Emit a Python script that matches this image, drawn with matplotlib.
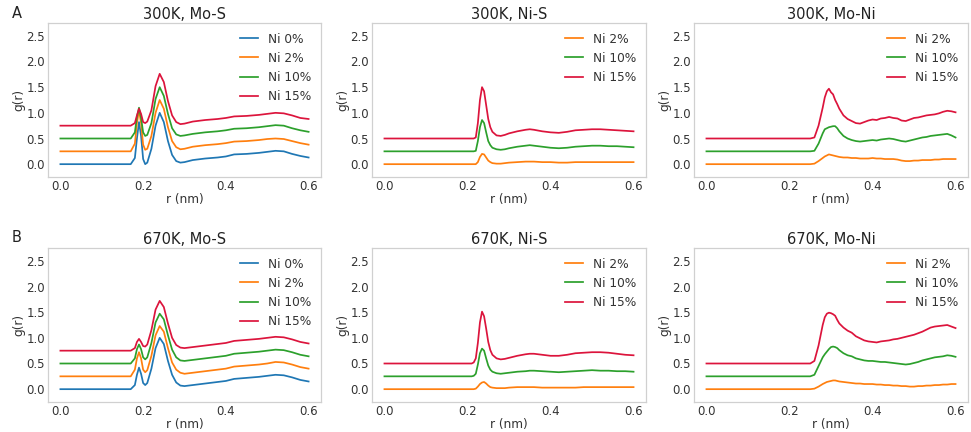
import matplotlib
matplotlib.use("Agg")
import matplotlib.pyplot as plt

# ---------------- data ----------------
r_mos = [0.0, 0.1, 0.17, 0.18, 0.185, 0.19, 0.195, 0.2, 0.205, 0.21, 0.22, 0.23, 0.24, 0.25, 0.26,
         0.27, 0.28, 0.29, 0.3, 0.32, 0.35, 0.38, 0.4, 0.42, 0.45, 0.48, 0.5, 0.52, 0.54, 0.56, 0.58, 0.6]

mos_300_ni0 = [0, 0, 0, 0.12, 0.5, 0.82, 0.55, 0.1, 0.0, 0.03, 0.3, 0.75, 1.0, 0.82, 0.45,
               0.18, 0.06, 0.03, 0.04, 0.08, 0.11, 0.13, 0.15, 0.19, 0.2, 0.22, 0.24, 0.26, 0.25, 0.2, 0.16, 0.13]
mos_300_ni2 = [0.25, 0.25, 0.25, 0.4, 0.8, 1.05, 0.8, 0.38, 0.28, 0.3, 0.55, 1.0, 1.25, 1.08, 0.72,
               0.45, 0.33, 0.29, 0.3, 0.34, 0.37, 0.39, 0.41, 0.44, 0.45, 0.47, 0.49, 0.5, 0.49, 0.45, 0.41, 0.38]
mos_300_ni10 = [0.5, 0.5, 0.5, 0.62, 0.92, 1.1, 0.9, 0.62, 0.55, 0.57, 0.8, 1.27, 1.5, 1.33, 0.98,
                0.7, 0.58, 0.55, 0.56, 0.59, 0.62, 0.64, 0.66, 0.69, 0.7, 0.72, 0.74, 0.76, 0.75, 0.7, 0.66, 0.63]
mos_300_ni15 = [0.75, 0.75, 0.75, 0.8, 0.95, 1.08, 0.98, 0.82, 0.8, 0.83, 1.05, 1.52, 1.76, 1.6, 1.23,
                0.95, 0.82, 0.78, 0.79, 0.83, 0.86, 0.88, 0.9, 0.93, 0.94, 0.96, 0.98, 1.0, 0.99, 0.95, 0.9, 0.88]

mos_670_ni0 = [0, 0, 0, 0.08, 0.28, 0.42, 0.3, 0.12, 0.08, 0.12, 0.4, 0.8, 1.0, 0.88, 0.55,
               0.28, 0.13, 0.07, 0.06, 0.08, 0.11, 0.14, 0.16, 0.2, 0.22, 0.24, 0.26, 0.28, 0.27, 0.23, 0.18, 0.15]
mos_670_ni2 = [0.25, 0.25, 0.25, 0.38, 0.6, 0.72, 0.6, 0.38, 0.33, 0.37, 0.65, 1.05, 1.23, 1.12, 0.8,
               0.52, 0.38, 0.32, 0.3, 0.32, 0.35, 0.38, 0.4, 0.44, 0.46, 0.48, 0.5, 0.53, 0.52, 0.48, 0.43, 0.4]
mos_670_ni10 = [0.5, 0.5, 0.5, 0.6, 0.78, 0.87, 0.78, 0.62, 0.58, 0.62, 0.9, 1.3, 1.47, 1.36, 1.05,
                0.77, 0.62, 0.56, 0.55, 0.57, 0.6, 0.63, 0.65, 0.69, 0.71, 0.73, 0.75, 0.77, 0.76, 0.72, 0.67, 0.64]
mos_670_ni15 = [0.75, 0.75, 0.75, 0.8, 0.92, 0.98, 0.92, 0.84, 0.83, 0.87, 1.15, 1.55, 1.72, 1.6, 1.28,
                1.0, 0.86, 0.81, 0.8, 0.82, 0.85, 0.88, 0.9, 0.94, 0.96, 0.98, 1.0, 1.02, 1.01, 0.97, 0.92, 0.89]

r_nis = [0.0, 0.1, 0.2, 0.21, 0.215, 0.22, 0.225, 0.23, 0.235, 0.24, 0.245, 0.25, 0.255, 0.26, 0.27,
         0.28, 0.29, 0.3, 0.32, 0.34, 0.35, 0.36, 0.38, 0.4, 0.42, 0.44, 0.46, 0.48, 0.5, 0.52, 0.54, 0.56, 0.58, 0.6]

nis_300_ni2 = [0, 0, 0, 0, 0, 0, 0.04, 0.14, 0.2, 0.19, 0.13, 0.07, 0.04, 0.02, 0.01,
               0.01, 0.02, 0.03, 0.04, 0.05, 0.05, 0.05, 0.04, 0.04, 0.03, 0.03, 0.04, 0.04, 0.04, 0.04, 0.04, 0.04, 0.04, 0.04]
nis_300_ni10 = [0.25, 0.25, 0.25, 0.25, 0.25, 0.26, 0.45, 0.72, 0.86, 0.8, 0.62, 0.45, 0.37, 0.32, 0.29,
                0.28, 0.29, 0.31, 0.34, 0.36, 0.37, 0.36, 0.34, 0.32, 0.31, 0.32, 0.34, 0.35, 0.36, 0.36, 0.35, 0.35, 0.34, 0.33]
nis_300_ni15 = [0.5, 0.5, 0.5, 0.5, 0.5, 0.52, 0.8, 1.25, 1.5, 1.42, 1.15, 0.88, 0.72, 0.63, 0.56,
                0.55, 0.57, 0.6, 0.64, 0.67, 0.68, 0.67, 0.64, 0.62, 0.61, 0.63, 0.66, 0.67, 0.68, 0.68, 0.67, 0.66, 0.65, 0.64]

nis_670_ni2 = [0, 0, 0, 0, 0, 0.01, 0.05, 0.1, 0.13, 0.14, 0.11, 0.07, 0.04, 0.03, 0.02,
               0.02, 0.02, 0.03, 0.04, 0.04, 0.04, 0.04, 0.03, 0.03, 0.03, 0.03, 0.03, 0.04, 0.04, 0.04, 0.04, 0.04, 0.04, 0.04]
nis_670_ni10 = [0.25, 0.25, 0.25, 0.25, 0.26, 0.3, 0.48, 0.7, 0.79, 0.75, 0.6, 0.46, 0.38, 0.34, 0.31,
                0.3, 0.31, 0.32, 0.34, 0.35, 0.36, 0.36, 0.35, 0.34, 0.33, 0.34, 0.35, 0.36, 0.37, 0.36, 0.36, 0.35, 0.35, 0.34]
nis_670_ni15 = [0.5, 0.5, 0.5, 0.5, 0.52, 0.6, 0.9, 1.3, 1.51, 1.42, 1.18, 0.92, 0.76, 0.67, 0.6,
                0.58, 0.59, 0.61, 0.65, 0.68, 0.69, 0.69, 0.67, 0.65, 0.65, 0.67, 0.7, 0.71, 0.72, 0.72, 0.71, 0.69, 0.67, 0.66]

r_moni = [0.0, 0.1, 0.2, 0.25, 0.26, 0.27, 0.28, 0.285, 0.29, 0.295, 0.3, 0.305, 0.31, 0.315, 0.32,
          0.33, 0.34, 0.35, 0.36, 0.37, 0.38, 0.39, 0.4, 0.41, 0.42, 0.43, 0.44, 0.45, 0.46, 0.47,
          0.48, 0.49, 0.5, 0.51, 0.52, 0.53, 0.54, 0.55, 0.56, 0.57, 0.58, 0.59, 0.6]

moni_300_ni2 = [0, 0, 0, 0, 0.01, 0.06, 0.12, 0.15, 0.17, 0.19, 0.18, 0.17, 0.16, 0.15, 0.14,
                0.13, 0.13, 0.12, 0.12, 0.11, 0.11, 0.11, 0.12, 0.11, 0.11, 0.1, 0.1, 0.1, 0.09, 0.07,
                0.06, 0.06, 0.07, 0.07, 0.08, 0.08, 0.08, 0.09, 0.09, 0.1, 0.1, 0.1, 0.1]
moni_300_ni10 = [0.25, 0.25, 0.25, 0.25, 0.26, 0.4, 0.6, 0.68, 0.7, 0.72, 0.73, 0.74, 0.74, 0.7, 0.64,
                 0.55, 0.5, 0.47, 0.45, 0.44, 0.45, 0.46, 0.47, 0.46, 0.48, 0.49, 0.5, 0.49, 0.47, 0.45,
                 0.44, 0.46, 0.48, 0.5, 0.52, 0.53, 0.55, 0.56, 0.57, 0.58, 0.59, 0.56, 0.52]
moni_300_ni15 = [0.5, 0.5, 0.5, 0.5, 0.52, 0.75, 1.1, 1.3, 1.42, 1.47, 1.4, 1.36, 1.25, 1.17, 1.08,
                 0.95, 0.88, 0.84, 0.8, 0.79, 0.82, 0.85, 0.87, 0.86, 0.89, 0.9, 0.92, 0.9, 0.89, 0.85,
                 0.84, 0.87, 0.9, 0.91, 0.93, 0.95, 0.96, 0.97, 0.99, 1.02, 1.04, 1.03, 1.01]

moni_670_ni2 = [0, 0, 0, 0, 0.01, 0.05, 0.1, 0.12, 0.14, 0.15, 0.16, 0.17, 0.17, 0.16, 0.15,
                0.14, 0.13, 0.12, 0.11, 0.11, 0.1, 0.1, 0.1, 0.09, 0.09, 0.08, 0.08, 0.07, 0.07, 0.06,
                0.06, 0.05, 0.05, 0.06, 0.06, 0.07, 0.07, 0.08, 0.08, 0.09, 0.09, 0.1, 0.1]
moni_670_ni10 = [0.25, 0.25, 0.25, 0.25, 0.28, 0.45, 0.62, 0.68, 0.73, 0.78, 0.82, 0.83, 0.82, 0.8, 0.76,
                 0.7, 0.66, 0.64, 0.6, 0.58, 0.56, 0.55, 0.55, 0.54, 0.53, 0.53, 0.52, 0.51, 0.5, 0.49,
                 0.48, 0.49, 0.51, 0.53, 0.56, 0.58, 0.6, 0.62, 0.63, 0.64, 0.66, 0.65, 0.63]
moni_670_ni15 = [0.5, 0.5, 0.5, 0.5, 0.55, 0.85, 1.25, 1.4, 1.47, 1.49, 1.48, 1.46, 1.43, 1.35, 1.28,
                 1.2, 1.14, 1.1, 1.03, 0.99, 0.95, 0.93, 0.92, 0.91, 0.93, 0.94, 0.95, 0.97, 0.98, 1.0,
                 1.02, 1.04, 1.06, 1.09, 1.12, 1.16, 1.2, 1.22, 1.23, 1.24, 1.25, 1.22, 1.19]

labels4 = ["Ni 0%", "Ni 2%", "Ni 10%", "Ni 15%"]
labels3 = ["Ni 2%", "Ni 10%", "Ni 15%"]
titles = [["300K, Mo-S", "300K, Ni-S", "300K, Mo-Ni"],
          ["670K, Mo-S", "670K, Ni-S", "670K, Mo-Ni"]]
panel_letters = ["A", "B"]
yticks = [0.0, 0.5, 1.0, 1.5, 2.0, 2.5]
xticks = [0.0, 0.2, 0.4, 0.6]

# ---------------- style ----------------
plt.rcParams["font.family"] = ["DejaVu Sans"]
C_BLUE, C_ORANGE, C_GREEN, C_RED = "#1f77b4", "#ff7f0e", "#2ca02c", "#dc143c"
colors4 = [C_BLUE, C_ORANGE, C_GREEN, C_RED]
colors3 = [C_ORANGE, C_GREEN, C_RED]

panels = [
    [(r_mos, [mos_300_ni0, mos_300_ni2, mos_300_ni10, mos_300_ni15], labels4, colors4),
     (r_nis, [nis_300_ni2, nis_300_ni10, nis_300_ni15], labels3, colors3),
     (r_moni, [moni_300_ni2, moni_300_ni10, moni_300_ni15], labels3, colors3)],
    [(r_mos, [mos_670_ni0, mos_670_ni2, mos_670_ni10, mos_670_ni15], labels4, colors4),
     (r_nis, [nis_670_ni2, nis_670_ni10, nis_670_ni15], labels3, colors3),
     (r_moni, [moni_670_ni2, moni_670_ni10, moni_670_ni15], labels3, colors3)],
]

W, H = 971, 432
fig = plt.figure(figsize=(W / 100, H / 100), dpi=100)
lefts = [48, 372, 694]
widths = [273, 274, 274]
tops = [23, 248]
height = 154

for i in range(2):
    for j in range(3):
        ax = fig.add_axes([lefts[j] / W, 1 - (tops[i] + height) / H, widths[j] / W, height / H])
        r, series, labs, cols = panels[i][j]
        for y, lab, c in zip(series, labs, cols):
            ax.plot(r, y, color=c, lw=1.25, label=lab)
        ax.set_xlim(-0.03, 0.63)
        ax.set_ylim(-0.25, 2.75)
        ax.set_xticks(xticks)
        ax.set_yticks(yticks)
        ax.tick_params(length=0, labelsize=8.5, colors="#333333", pad=2)
        for s in ax.spines.values():
            s.set_color("#d0d0d0")
            s.set_linewidth(0.9)
        ax.set_title(titles[i][j], fontsize=10.5, color="#222222", pad=3)
        ax.set_xlabel("r (nm)", fontsize=8.7, color="#333333", labelpad=0)
        ax.set_ylabel("g(r)", fontsize=8.7, color="#333333", labelpad=1)
        ax.legend(loc="upper right", frameon=False, fontsize=8.7, handlelength=1.5,
                  borderaxespad=0.4, labelcolor="#333333")
    fig.text(17 / W, 1 - tops[i] / H + 10 / H, panel_letters[i], fontsize=10.5,
             ha="center", va="center", color="#222222")

fig.savefig("out.png", dpi=100)
